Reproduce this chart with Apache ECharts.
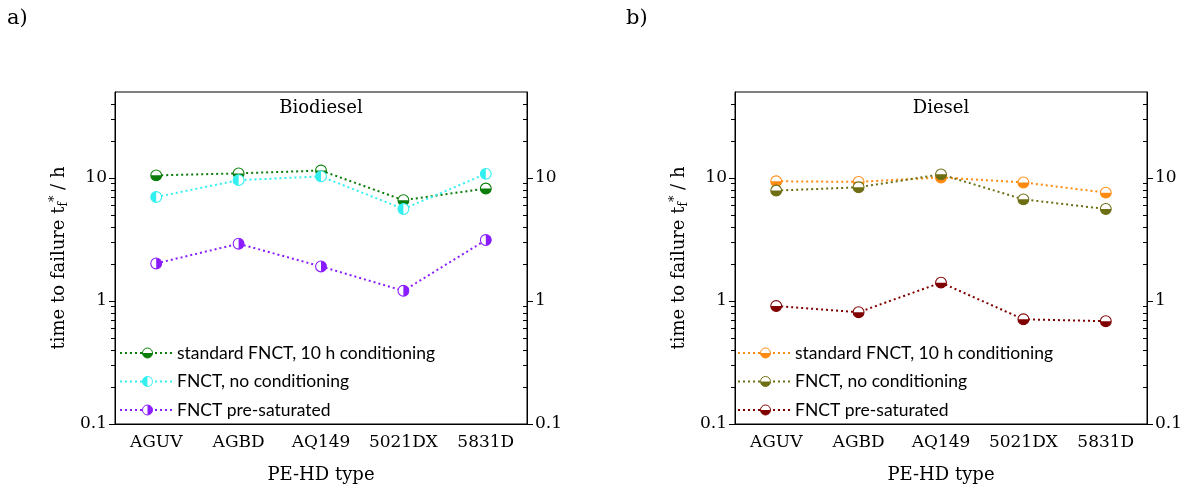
<!DOCTYPE html>
<html>
<head>
<meta charset="utf-8">
<script src="https://cdn.jsdelivr.net/npm/echarts@6/dist/echarts.min.js"></script>
<style>
  html, body { margin: 0; padding: 0; background: #fff; }
  #main { width: 1189px; height: 497px; }
</style>
</head>
<body>
<div id="main"></div>
<script>
// data
var categories = ['AGUV', 'AGBD', 'AQ149', '5021DX', '5831D'];
var seriesNames = ['standard FNCT, 10 h conditioning', 'FNCT, no conditioning', 'FNCT pre-saturated'];

var bioStandard = [10.5, 10.9, 11.5, 6.6, 8.2];
var bioNoCond = [7.0, 9.6, 10.3, 5.6, 10.8];
var bioPreSat = [2.02, 2.92, 1.91, 1.21, 3.13];

var dieselStandard = [9.4, 9.3, 10.1, 9.2, 7.6];
var dieselNoCond = [7.9, 8.4, 10.7, 6.7, 5.6];
var dieselPreSat = [0.91, 0.81, 1.41, 0.71, 0.685];

var majorTicks = [0.1, 1, 10];
var minorTicks = [0.2, 0.3, 0.4, 0.5, 0.6, 0.7, 0.8, 0.9, 2, 3, 4, 5, 6, 7, 8, 9, 20, 30, 40];

var serif = 'DejaVu Serif';
var sans = 'Lato';
var ink = '#000';

// half filled circle marker
function halfCircle(color, side) {
  var d;
  if (side === 'bottom') d = 'M2,12 A10,10 0 0,0 22,12 Z';
  else if (side === 'left') d = 'M12,2 A10,10 0 0,0 12,22 Z';
  else d = 'M12,2 A10,10 0 0,1 12,22 Z';
  var svg = '<svg xmlns="http://www.w3.org/2000/svg" width="24" height="24" viewBox="0 0 24 24">' +
    '<circle cx="12" cy="12" r="10" fill="#fff"/>' +
    '<path d="' + d + '" fill="' + color + '"/>' +
    '<circle cx="12" cy="12" r="10" fill="none" stroke="' + color + '" stroke-width="2"/></svg>';
  return 'image://data:image/svg+xml;charset=utf-8,' + encodeURIComponent(svg);
}

var myChart = echarts.init(document.getElementById('main'));

var grids = [
  { left: 115, right: 662, top: 92, bottom: 73, show: true, borderColor: '#000', borderWidth: 1 },
  { left: 735, right: 42, top: 92, bottom: 73, show: true, borderColor: '#000', borderWidth: 1 }
];

var xAxes = [0, 1].map(function (g) {
  return {
    type: 'category',
    gridIndex: g,
    data: categories,
    position: 'bottom',
    name: 'PE-HD type',
    nameLocation: 'middle',
    nameGap: 42,
    nameTextStyle: { fontFamily: serif, fontSize: 18, color: ink },
    axisLine: { lineStyle: { color: '#000', width: 1 } },
    axisTick: { alignWithLabel: true, interval: 0, length: 6, lineStyle: { color: '#000' } },
    axisLabel: { interval: 0, fontFamily: serif, fontSize: 17, color: ink, margin: 10 },
    splitLine: { show: false }
  };
});

function logAxis(g, pos, major, inside) {
  return {
    type: 'log',
    logBase: 10,
    gridIndex: g,
    position: pos,
    min: 0.1,
    max: 50,
    name: (pos === 'left' && major) ? 'time to failure t{sub|f}{sup|*} / h' : '',
    nameLocation: 'middle',
    nameGap: 45,
    nameTextStyle: {
      fontFamily: serif, fontSize: 18, color: ink,
      rich: {
        sub: { fontFamily: serif, fontSize: 12, color: ink, padding: [10, 0, 0, 0] },
        sup: { fontFamily: serif, fontSize: 13, color: ink, padding: [0, 0, 8, 0] }
      }
    },
    axisLine: { show: major, onZero: false, lineStyle: { color: '#000', width: 1 } },
    axisTick: {
      show: true,
      inside: inside,
      length: major ? 6 : 4,
      customValues: major ? majorTicks : minorTicks,
      lineStyle: { color: '#000' }
    },
    axisLabel: {
      show: major,
      customValues: majorTicks,
      fontFamily: serif, fontSize: 17, color: ink, margin: 8,
      formatter: function (v) { return String(+(+v).toPrecision(3)); }
    },
    splitLine: { show: false },
    minorTick: { show: false },
    minorSplitLine: { show: false }
  };
}

var yAxes = [];
[0, 1].forEach(function (g) {
  yAxes.push(logAxis(g, 'left', true, false));
  yAxes.push(logAxis(g, 'left', false, false));
  yAxes.push(logAxis(g, 'right', true, false));
  yAxes.push(logAxis(g, 'right', false, true));
});

function makeSeries(name, data, color, side, g) {
  return {
    name: name,
    type: 'line',
    xAxisIndex: g,
    yAxisIndex: g * 4,
    data: data,
    symbol: halfCircle(color, side),
    symbolSize: 13,
    showSymbol: true,
    lineStyle: { color: color, width: 2, type: [2, 3] },
    itemStyle: { color: color },
    emphasis: { disabled: true },
    animation: false
  };
}

var rightNames = seriesNames.map(function (n) { return n + '\u200b'; });

var series = [
  makeSeries(seriesNames[0], bioStandard, '#0a7d0a', 'bottom', 0),
  makeSeries(seriesNames[1], bioNoCond, '#33f0f0', 'left', 0),
  makeSeries(seriesNames[2], bioPreSat, '#8a1cff', 'right', 0),
  makeSeries(rightNames[0], dieselStandard, '#ff8a10', 'bottom', 1),
  makeSeries(rightNames[1], dieselNoCond, '#6e6e14', 'bottom', 1),
  makeSeries(rightNames[2], dieselPreSat, '#800000', 'bottom', 1)
];

function makeLegend(names, left) {
  return {
    data: names,
    left: left,
    top: 338,
    orient: 'vertical',
    itemWidth: 55,
    itemHeight: 15,
    itemGap: 8.5,
    selectedMode: false,
    textStyle: { fontFamily: sans, fontSize: 17.5, color: ink, lineHeight: 20, padding: [0, 0, 0, -3] }
  };
}

myChart.setOption({
  backgroundColor: '#fff',
  animation: false,
  grid: grids,
  xAxis: xAxes,
  yAxis: yAxes,
  legend: [makeLegend(seriesNames, 114), makeLegend(rightNames, 732)],
  graphic: [
    { type: 'text', left: 7, top: 8, style: { text: 'a)', fontFamily: serif, fontSize: 21, fill: ink } },
    { type: 'text', left: 626, top: 8, style: { text: 'b)', fontFamily: serif, fontSize: 21, fill: ink } },
    { type: 'text', x: 321, y: 99, style: { text: 'Biodiesel', fontFamily: serif, fontSize: 18, fill: ink, align: 'center' } },
    { type: 'text', x: 941, y: 99, style: { text: 'Diesel', fontFamily: serif, fontSize: 18, fill: ink, align: 'center' } }
  ],
  series: series
});

window.addEventListener('resize', function () {
  myChart.resize();
});
</script>
</body>
</html>
